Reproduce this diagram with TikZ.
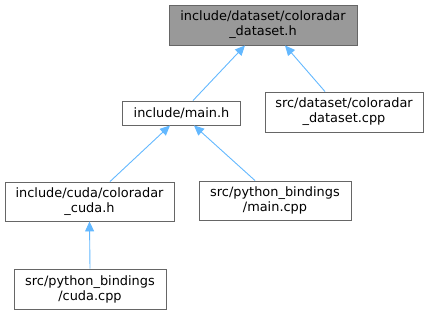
\documentclass[tikz,border=0pt]{standalone}
\usepackage{fontspec}
\setmainfont{DejaVu Sans}
\usetikzlibrary{arrows.meta}
\definecolor{edgeblue}{HTML}{63B8FF}
\definecolor{boxgray}{HTML}{666666}
\definecolor{curfill}{HTML}{999999}
\begin{document}
\begin{tikzpicture}[x=1pt,y=-1pt,
  filebox/.style={draw=boxgray,line width=0.9pt,fill=white,inner sep=0pt,
    minimum height=#1,align=center,font=\fontsize{12.9}{15}\selectfont},
  filebox/.default=24pt,
  dep/.style={draw=edgeblue,line width=0.9pt,{Triangle[length=10pt,width=9pt]}-}]
\useasboundingbox (0,0) rectangle (429,315);
\node[filebox=40pt,fill=curfill,minimum width=188pt] (top) at (263,25) {include/dataset/coloradar\\\_dataset.h};
\node[filebox,minimum width=118pt] (mainh) at (181.5,113) {include/main.h};
\node[filebox=40pt,minimum width=158pt] (dscpp) at (344,112) {src/dataset/coloradar\\\_dataset.cpp};
\node[filebox=39pt,minimum width=169pt] (cudah) at (89.5,201.5) {include/cuda/coloradar\\\_cuda.h};
\node[filebox=39pt,minimum width=152pt] (maincpp) at (275,200.5) {src/python\_bindings\\/main.cpp};
\node[filebox=40pt,minimum width=152pt] (cudacpp) at (90,289) {src/python\_bindings\\/cuda.cpp};
\draw[dep] ([xshift=-18pt]top.south) -- ([xshift=11.5pt]mainh.north);
\draw[dep] ([xshift=22pt]top.south) -- ([xshift=-19pt]dscpp.north);
\draw[dep] ([xshift=-11.5pt]mainh.south) -- ([xshift=20.5pt]cudah.north);
\draw[dep] ([xshift=12.5pt]mainh.south) -- ([xshift=-20pt]maincpp.north);
\draw[dep] (cudah.south) -- (cudacpp.north);
\end{tikzpicture}
\end{document}
